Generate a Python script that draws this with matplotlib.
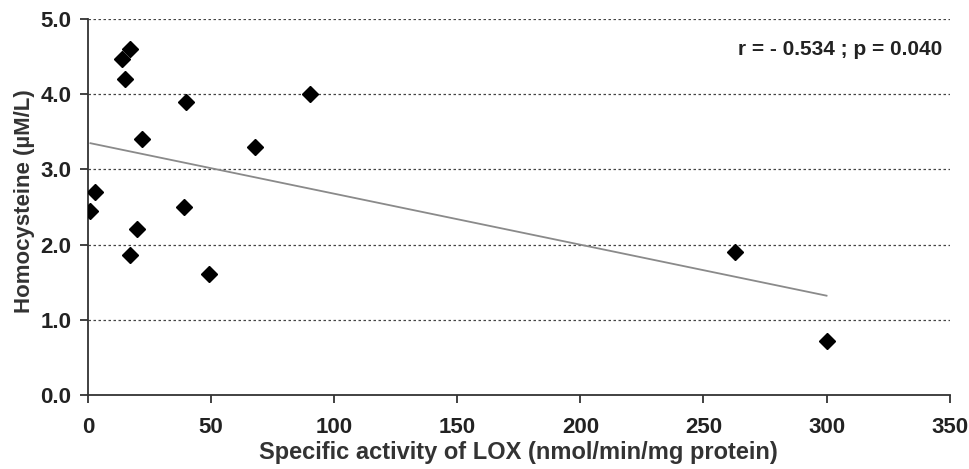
import numpy as np
import matplotlib
matplotlib.use("Agg")
import matplotlib.pyplot as plt

lox = [1, 3, 14, 15, 17, 17, 20, 22, 39, 40, 49, 68, 90, 263, 300]
hcy = [2.45, 2.70, 4.47, 4.20, 4.60, 1.86, 2.21, 3.40, 2.50, 3.90, 1.61, 3.30, 4.00, 1.90, 0.72]
xticks = [0, 50, 100, 150, 200, 250, 300, 350]
yticks = [0.0, 1.0, 2.0, 3.0, 4.0, 5.0]
annot = "r = - 0.534 ; p = 0.040"

plt.rcParams['font.family'] = ['Liberation Sans', 'DejaVu Sans']

fig = plt.figure(figsize=(9.7, 4.69), dpi=100)
ax = fig.add_axes([0.0907, 0.158, 0.979 - 0.0907, 0.9595 - 0.158])

for yv in yticks[1:]:
    ax.axhline(yv, color='#444444', lw=0.9, ls=(0, (2, 2)), zorder=1)

slope, intercept = np.polyfit(lox, hcy, 1)
xl = np.array([min(lox), max(lox)])
ax.plot(xl, slope * xl + intercept, color='#8a8a8a', lw=1.3, zorder=2)

ax.plot(lox, hcy, ls='none', marker='D', ms=8, color='black', zorder=3)

ax.set_xlim(0, 350)
ax.set_ylim(0, 5)
ax.set_xticks(xticks)
ax.set_yticks(yticks)
ax.set_xticklabels([str(v) for v in xticks], fontsize=16, fontweight='bold', color='#222222')
ax.set_yticklabels([f"{v:.1f}" for v in yticks], fontsize=16, fontweight='bold', color='#222222')
for s in ['top', 'right']:
    ax.spines[s].set_visible(False)
for s in ['left', 'bottom']:
    ax.spines[s].set_color('#333333')
    ax.spines[s].set_linewidth(1.3)
ax.tick_params(axis='both', direction='out', length=6, width=1.3, color='#333333')
ax.tick_params(axis='x', pad=10)
ax.tick_params(axis='y', pad=6)

ax.set_xlabel("Specific activity of LOX (nmol/min/mg protein)", fontsize=17, fontweight='bold', color='#333333', labelpad=2)
ax.set_ylabel("Homocysteine (µM/L)", fontsize=16, fontweight='bold', color='#333333')
ax.yaxis.set_label_coords(-0.062, 0.515)

ax.text(347, 4.59, annot, ha='right', va='center', fontsize=15, fontweight='bold', color='#222222')

fig.savefig("out.png", dpi=100)
